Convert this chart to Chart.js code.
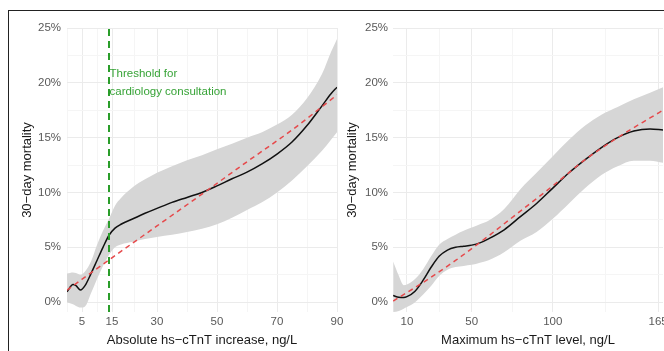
<!DOCTYPE html>
<html>
<head>
<meta charset="utf-8">
<script src="https://cdn.jsdelivr.net/npm/chart.js@4.4.1/dist/chart.umd.min.js"></script>
<style>
  html, body { margin: 0; padding: 0; background: #fff; overflow: hidden; }
  #wrap { position: relative; width: 664px; height: 351px; overflow: hidden; }
  #frame { position: absolute; left: 8px; top: 10px; width: 700px; height: 400px;
           border-top: 1px solid #222; border-left: 1px solid #222; }
  canvas { position: absolute; top: 0; }
  #left { left: 0; }
  #right { left: 337px; }
</style>
</head>
<body>
<div id="wrap">
  <div id="frame"></div>
  <canvas id="left" width="345" height="351"></canvas>
  <canvas id="right" width="340" height="351"></canvas>
</div>
<script>
// ---- data (percent) ----
// left panel: absolute hs-cTnT increase
const leftX     = [0, 2, 3, 4.5, 6, 8, 10, 12, 14, 16, 18, 22, 26, 30, 35, 40, 45, 50, 55, 60, 65, 70, 75, 80, 85, 88, 90];
const leftFit   = [0.95, 1.6, 1.5, 1.1, 1.5, 2.6, 3.8, 5.0, 6.1, 6.75, 7.1, 7.6, 8.1, 8.55, 9.1, 9.55, 10.0, 10.6, 11.25, 11.85, 12.6, 13.5, 14.6, 16.1, 17.9, 19.0, 19.6];
const leftUpper = [2.6, 2.7, 2.65, 2.5, 2.8, 3.7, 5.2, 6.5, 7.6, 8.8, 9.5, 10.5, 11.2, 11.8, 12.4, 12.95, 13.4, 13.95, 14.45, 15.0, 15.5, 16.2, 17.1, 18.6, 20.8, 22.8, 24.0];
const leftLower = [0.0, -0.2, -0.35, -0.5, -0.4, 0.8, 2.1, 3.3, 4.3, 5.0, 5.25, 5.5, 5.75, 5.95, 6.15, 6.4, 6.7, 7.1, 7.7, 8.4, 9.1, 10.0, 11.1, 12.4, 13.8, 14.8, 15.5];
const leftLinX  = [0, 14, 30, 45, 60, 75, 90];
const leftLin   = [1.1, 3.85, 6.95, 9.85, 12.8, 15.7, 18.9];
const leftXTicks = [5, 15, 30, 50, 70, 90];
const leftXMinor = [0, 10, 22.5, 40, 60, 80];
const threshold = 14;
const thresholdText = ['Threshold for', 'cardiology consultation'];
const thresholdTextY = [20.85, 19.2];

// right panel: maximum hs-cTnT level
const rightX     = [1.5, 5, 8, 10, 15, 20, 25, 30, 35, 40, 45, 50, 55, 60, 70, 80, 90, 100, 110, 120, 130, 140, 150, 160, 168];
const rightFit   = [0.6, 0.45, 0.43, 0.5, 1.0, 2.0, 3.2, 4.2, 4.75, 5.0, 5.1, 5.2, 5.4, 5.75, 6.6, 7.8, 9.0, 10.4, 11.8, 13.0, 14.1, 15.0, 15.6, 15.8, 15.7];
const rightUpper = [3.7, 2.4, 1.55, 1.6, 2.1, 3.0, 4.2, 5.25, 5.75, 6.15, 6.5, 6.8, 7.1, 7.4, 8.5, 10.3, 11.8, 13.3, 14.8, 16.1, 17.1, 17.8, 18.5, 19.1, 19.6];
const rightLower = [-0.9, -0.8, -0.6, -0.45, 0.0, 0.7, 1.5, 2.4, 2.95, 3.2, 3.3, 3.4, 3.6, 3.8, 4.55, 5.6, 6.4, 7.6, 9.0, 10.4, 11.6, 12.4, 12.9, 12.9, 12.7];
const rightLinX  = [1.5, 20, 40, 60, 80, 100, 120, 140, 160, 168];
const rightLin   = [0.1, 1.8, 3.8, 6.0, 8.3, 10.6, 13.0, 15.0, 16.8, 17.5];
const rightXTicks = [10, 50, 100, 165];
const rightXMinor = [30, 75, 132.5];

const yTicks = [0, 5, 10, 15, 20, 25];
const yMinor = [2.5, 7.5, 12.5, 17.5, 22.5];

const FONT = '"Liberation Sans", Arial, sans-serif';

const pts = (xs, ys) => xs.map((x, i) => ({x: x, y: ys[i]}));

const thresholdLabel = {
  id: 'thresholdLabel',
  afterDatasetsDraw(chart) {
    if (!chart.options.plugins.thresholdLabel) return;
    const {ctx, scales: {x, y}} = chart;
    ctx.save();
    ctx.font = '11.5px ' + FONT;
    ctx.fillStyle = '#37a337';
    ctx.textBaseline = 'middle';
    const px = x.getPixelForValue(threshold) + 0.5;
    thresholdText.forEach((t, i) => ctx.fillText(t, px, y.getPixelForValue(thresholdTextY[i])));
    ctx.restore();
  }
};

function makePanel(canvas, o) {
  const datasets = [
    { data: pts(o.x, o.upper), borderWidth: 0, pointRadius: 0, fill: '+1',
      backgroundColor: '#d6d6d6', cubicInterpolationMode: 'monotone' },
    { data: pts(o.x, o.lower), borderWidth: 0, pointRadius: 0, fill: false,
      cubicInterpolationMode: 'monotone' },
    { data: pts(o.x, o.fit), borderColor: '#111', borderWidth: 1.5, pointRadius: 0,
      fill: false, cubicInterpolationMode: 'monotone', order: 2 },
    { data: pts(o.linX, o.lin), borderColor: '#e6494b', borderWidth: 1.5, borderDash: [5, 4],
      pointRadius: 0, fill: false, cubicInterpolationMode: 'monotone', order: 1 }
  ];
  if (o.threshold) {
    datasets.push({ data: [{x: threshold, y: -0.9}, {x: threshold, y: 25}], borderColor: '#2a9d2a',
      borderWidth: 2, borderDash: [7, 5], pointRadius: 0, fill: false, tension: 0, order: 0 });
  }
  const xAll = o.xTicks.concat(o.xMinor).sort((a, b) => a - b);
  const yAll = yTicks.concat(yMinor).sort((a, b) => a - b);

  new Chart(canvas, {
    type: 'line',
    data: { datasets: datasets },
    options: {
      responsive: false,
      animation: false,
      layout: { padding: { top: 28, right: o.padRight, bottom: 0, left: 0 } },
      plugins: {
        legend: { display: false },
        tooltip: { enabled: false },
        filler: { drawTime: 'beforeDatasetsDraw' },
        thresholdLabel: !!o.threshold
      },
      scales: {
        x: {
          type: 'linear',
          min: o.xMin,
          max: o.xMax,
          afterBuildTicks: s => { s.ticks = xAll.map(v => ({value: v})); },
          afterFit: s => { s.height = 39; s.paddingLeft = 0; s.paddingRight = 0; },
          grid: {
            drawTicks: false,
            color: c => o.xTicks.includes(c.tick.value) ? '#ebebeb' : '#f5f5f5'
          },
          border: { display: false },
          ticks: {
            autoSkip: false, maxRotation: 0, padding: 3, color: '#595959',
            font: { family: FONT, size: 11.5 },
            callback: v => o.xTicks.includes(v) ? String(v) : ''
          },
          title: {
            display: true, text: o.xTitle, color: '#1a1a1a',
            font: { family: FONT, size: 13 }, padding: { top: 0, bottom: 3 }
          }
        },
        y: {
          min: -0.9,
          max: 25,
          afterBuildTicks: s => { s.ticks = yAll.map(v => ({value: v})); },
          afterFit: s => { s.width = o.yWidth; s.paddingTop = 0; s.paddingBottom = 0; },
          grid: {
            drawTicks: false,
            color: c => yTicks.includes(c.tick.value) ? '#ebebeb' : '#f5f5f5'
          },
          border: { display: false },
          ticks: {
            padding: o.yPad, color: '#595959',
            font: { family: FONT, size: 11.5 },
            callback: v => yTicks.includes(v) ? v + '%' : ''
          },
          title: {
            display: true, text: '30\u2212day mortality', color: '#1a1a1a',
            font: { family: FONT, size: 13 }, padding: { top: o.yTitlePad, bottom: 0 }
          }
        }
      }
    },
    plugins: [thresholdLabel]
  });
}

makePanel(document.getElementById('left'), {
  x: leftX, fit: leftFit, upper: leftUpper, lower: leftLower, linX: leftLinX, lin: leftLin,
  xTicks: leftXTicks, xMinor: leftXMinor, xMin: 0, xMax: 90,
  xTitle: 'Absolute hs\u2212cTnT increase, ng/L',
  yWidth: 67, yPad: 6, yTitlePad: 20, padRight: 8, threshold: true
});

makePanel(document.getElementById('right'), {
  x: rightX, fit: rightFit, upper: rightUpper, lower: rightLower, linX: rightLinX, lin: rightLin,
  xTicks: rightXTicks, xMinor: rightXMinor, xMin: 1.4, xMax: 168,
  xTitle: 'Maximum hs\u2212cTnT level, ng/L',
  yWidth: 56, yPad: 5, yTitlePad: 8, padRight: 14, threshold: false
});
</script>
</body>
</html>
